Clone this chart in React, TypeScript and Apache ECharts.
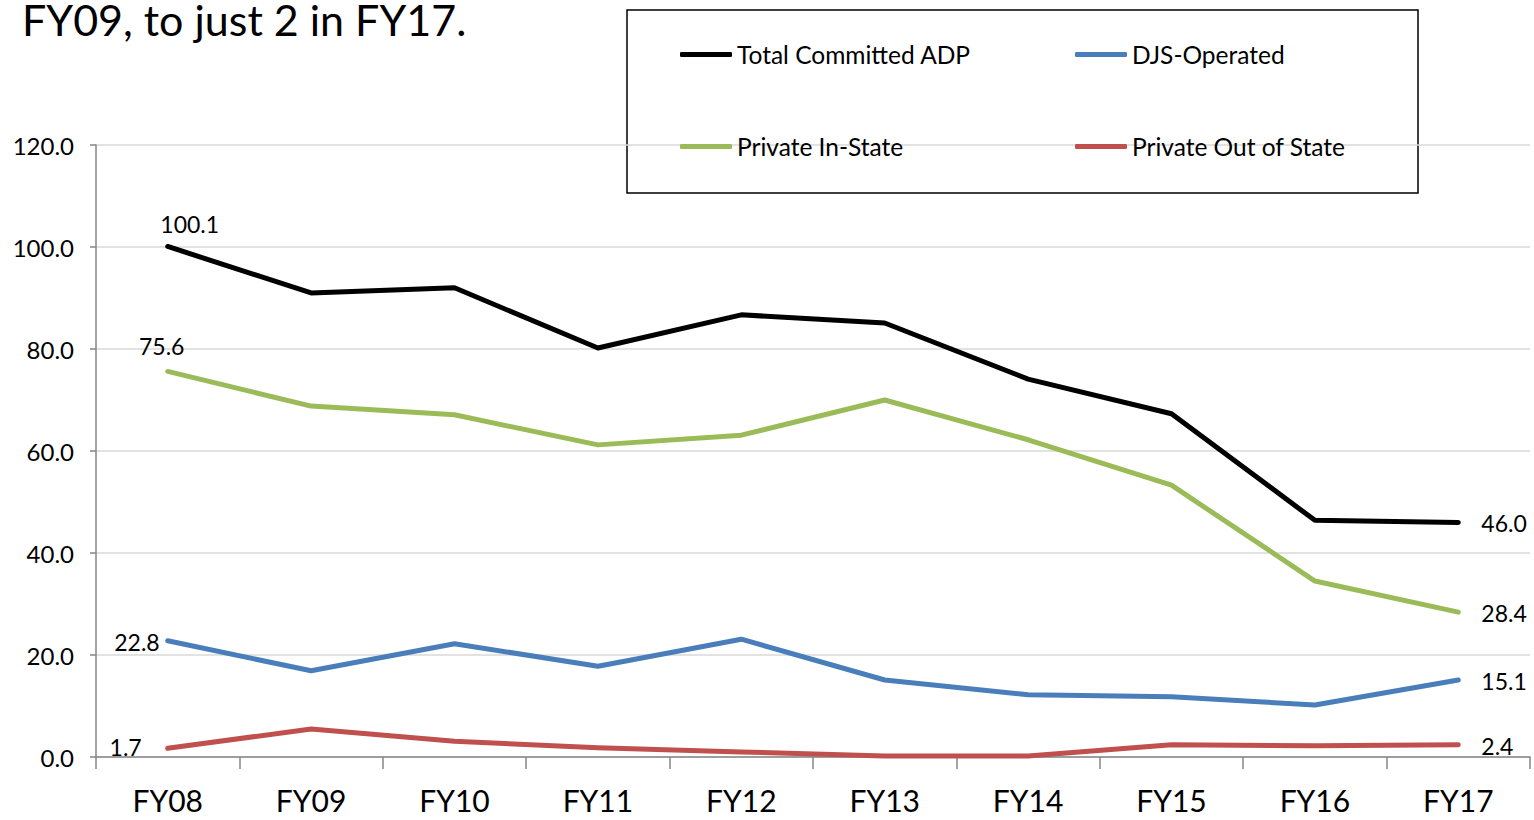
import React, { useEffect, useRef } from "react";
import * as echarts from "echarts";

const categories = ["FY08", "FY09", "FY10", "FY11", "FY12", "FY13", "FY14", "FY15", "FY16", "FY17"];
const totalCommitted = [100.1, 91.0, 92.0, 80.2, 86.7, 85.1, 74.1, 67.3, 46.4, 46.0];
const djsOperated = [22.8, 16.9, 22.2, 17.8, 23.1, 15.1, 12.2, 11.8, 10.2, 15.1];
const privateInState = [75.6, 68.8, 67.1, 61.2, 63.1, 70.0, 62.2, 53.3, 34.5, 28.4];
const privateOutOfState = [1.7, 5.5, 3.1, 1.8, 1.0, 0.2, 0.2, 2.4, 2.2, 2.4];
const yTicks = { min: 0, max: 120, interval: 20 };

const FONT = "Lato, 'Open Sans', sans-serif";
const SYM = 3;

function withEndLabels(values: number[], firstDx: number, firstDy: number, firstAlign: string) {
  const last = values.length - 1;
  const h = SYM / 2;
  return values.map((v, i) => {
    if (i === 0) {
      return {
        value: v,
        label: {
          show: true,
          position: [firstDx + h, firstDy + h],
          align: firstAlign,
          verticalAlign: "middle",
        },
      };
    }
    if (i === last) {
      return {
        value: v,
        label: { show: true, position: [23 + h, 1 + h], align: "left", verticalAlign: "middle" },
      };
    }
    return v;
  });
}

export default function App() {
  const ref = useRef<HTMLDivElement>(null);
  useEffect(() => {
    if (!ref.current) return;
    const chart = echarts.init(ref.current, null, { renderer: "svg" });
    const labelStyle = {
      fontFamily: FONT,
      fontSize: 23,
      color: "#000",
      formatter: (p: any) => Number(p.value).toFixed(1),
    };
    const mkSeries = (name: string, data: any[], color: string) => ({
      name,
      type: "line",
      data,
      symbol: "circle",
      symbolSize: SYM,
      showSymbol: true,
      showAllSymbol: true,
      lineStyle: { color, width: 5, cap: "round", join: "round" },
      itemStyle: { color },
      label: { show: false, ...labelStyle },
      labelLayout: { hideOverlap: false },
    });
    const legendBase = (name: string, left: number, top: number) => ({
      data: [name],
      left,
      top,
      icon: "roundRect",
      itemWidth: 52,
      itemHeight: 5,
      textStyle: { fontFamily: FONT, fontSize: 24.5, color: "#000" },
      selectedMode: false,
    });
    chart.setOption({
      animation: false,
      backgroundColor: "#fff",
      grid: { left: 96, right: 4, top: 145, bottom: 63, containLabel: false },
      legend: [
        legendBase("Total Committed ADP", 675, 37),
        legendBase("DJS-Operated", 1070, 37),
        legendBase("Private In-State", 675, 129),
        legendBase("Private Out of State", 1070, 129),
      ],
      graphic: [
        {
          type: "text",
          left: 22,
          top: -2,
          style: { text: "FY09, to just 2 in FY17.", fontFamily: FONT, fontSize: 43, fill: "#000" },
        },
        {
          type: "rect",
          shape: { x: 627, y: 10, width: 791, height: 183 },
          style: { fill: "none", stroke: "#000", lineWidth: 1.5 },
          z: -1,
        },
      ],
      xAxis: {
        type: "category",
        data: categories,
        boundaryGap: true,
        axisLine: { lineStyle: { color: "#868686", width: 1.5 } },
        axisTick: { show: true, length: 12, alignWithLabel: false, lineStyle: { color: "#868686", width: 1.5 } },
        axisLabel: { fontFamily: FONT, fontSize: 30, color: "#000", margin: 28 },
        splitLine: { show: false },
      },
      yAxis: {
        type: "value",
        min: yTicks.min,
        max: yTicks.max,
        interval: yTicks.interval,
        axisLine: { show: true, lineStyle: { color: "#868686", width: 1.5 } },
        axisTick: { show: true, length: 6, lineStyle: { color: "#868686", width: 1.5 } },
        axisLabel: {
          fontFamily: FONT,
          fontSize: 24,
          color: "#000",
          margin: 22,
          formatter: (v: number) => v.toFixed(1),
        },
        splitLine: { show: true, lineStyle: { color: "#d9d9d9", width: 1.5 } },
      },
      series: [
        mkSeries("Total Committed ADP", withEndLabels(totalCommitted, 22, -22, "center"), "#000000"),
        mkSeries("DJS-Operated", withEndLabels(djsOperated, -8, 1, "right"), "#4a7ebb"),
        mkSeries("Private In-State", withEndLabels(privateInState, -6, -25, "center"), "#9bbb59"),
        mkSeries("Private Out of State", withEndLabels(privateOutOfState, -26, -1, "right"), "#c0504d"),
      ],
    });
    return () => chart.dispose();
  }, []);
  return (
    <div
      ref={ref}
      style={{ position: "absolute", left: 0, top: 0, width: 1534, height: 820 }}
    />
  );
}
